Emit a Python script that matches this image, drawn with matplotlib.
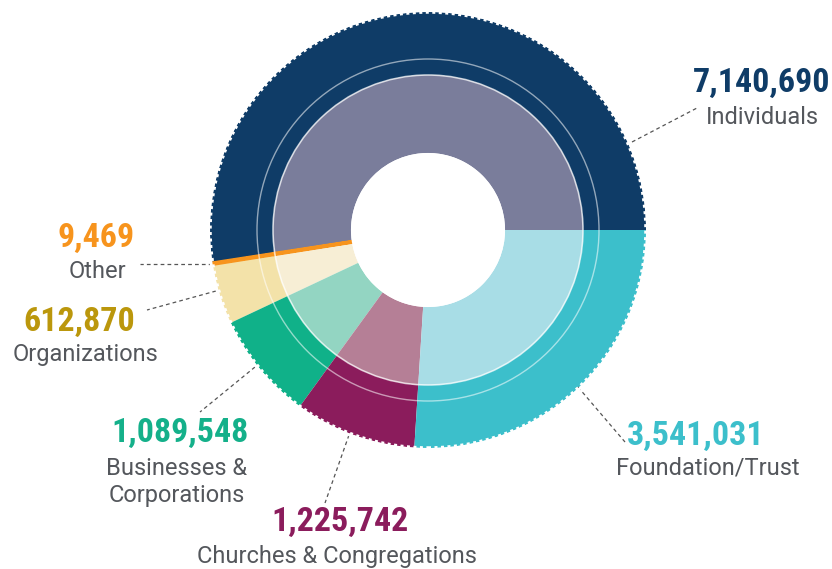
import matplotlib
matplotlib.use("Agg")
import matplotlib.pyplot as plt
from matplotlib.patches import Circle

categories = ["Individuals", "Other", "Organizations", "Businesses &\nCorporations",
              "Churches & Congregations", "Foundation/Trust"]
values = [7140690, 9469, 612870, 1089548, 1225742, 3541031]
outer_colors = ["#0f3c67", "#f7941d", "#f3e2a9", "#10b189", "#8b1c5c", "#3cbfcb"]
inner_colors = ["#7a7d9b", "#f7941d", "#f7eed5", "#93d5c2", "#b57f96", "#a8dde6"]
number_colors = ["#0f3c67", "#f7941d", "#bb970c", "#14b08a", "#8b1c5c", "#3cbfcb"]

W, H = 832, 569
fig = plt.figure(figsize=(W / 100, H / 100), dpi=100)
ax = fig.add_axes([0, 0, 1, 1])

cx, cy = 428, H - 230
R_out, R_mid, R_in = 218, 155, 77

wedges, _ = ax.pie(values, colors=outer_colors, startangle=0, counterclock=True,
                   radius=R_out, center=(cx, cy), frame=True,
                   wedgeprops=dict(width=R_out - R_mid, linewidth=0))
wedges2, _ = ax.pie(values, colors=inner_colors, startangle=0, counterclock=True,
                    radius=R_mid, center=(cx, cy), frame=True,
                    wedgeprops=dict(width=R_mid - R_in, linewidth=0))
for w in (wedges[1], wedges2[1]):
    w.set_edgecolor("#f7941d")
    w.set_linewidth(2.6)
    w.set_joinstyle("miter")
    w.set_zorder(3)
ax.set_xlim(0, W)
ax.set_ylim(0, H)
ax.set_aspect("equal")
ax.axis("off")

# thin light rings
ax.add_patch(Circle((cx, cy), R_mid, fill=False, ec="white", lw=1.2, alpha=0.7, zorder=4))
ax.add_patch(Circle((cx, cy), 171, fill=False, ec="white", lw=1.0, alpha=0.55, zorder=4))
# soft ragged outer edge
ax.add_patch(Circle((cx, cy), R_out - 0.5, fill=False, ec="white", lw=1.8,
                    linestyle=(0, (1.2, 1.4)), zorder=4))
ax.add_patch(Circle((cx, cy), R_out + 1.5, fill=False, ec="white", lw=2.0, zorder=4))
ax.add_patch(Circle((cx, cy), R_in - 1, fill=True, fc="white", ec="white", lw=1.5, zorder=4))

num_font = dict(family=["Roboto Condensed", "Roboto", "DejaVu Sans"], weight="bold", fontsize=24.5)
lab_font = dict(family=["Roboto", "DejaVu Sans"], fontsize=17, color="#54575c")

# (number x, number y, label x, label y) in pixel coords from top
label_pos = [
    (762, 83, 762, 117),
    (96, 238, 97, 271),
    (79, 322, 85, 354),
    (180, 433, 177, 482),
    (340, 522, 337, 556),
    (696, 436, 708, 468),
]
leaders = [
    ((632, 142), (697, 108)),
    ((212, 264), (140, 264)),
    ((216, 291), (147, 310)),
    ((255, 367), (200, 412)),
    ((349, 435), (325, 503)),
    ((578, 387), (625, 442)),
]

for i, val in enumerate(values):
    nx, ny, lx, ly = label_pos[i]
    ax.text(nx, H - ny, f"{val:,}", color=number_colors[i], ha="center", va="center", **num_font)
    ax.text(lx, H - ly, categories[i], ha="center", va="center", linespacing=1.2, **lab_font)
    (x0, y0), (x1, y1) = leaders[i]
    ax.plot([x0, x1], [H - y0, H - y1], color="#555555", lw=0.9, linestyle=(0, (3, 2.5)))

fig.savefig("out.png", dpi=100)
